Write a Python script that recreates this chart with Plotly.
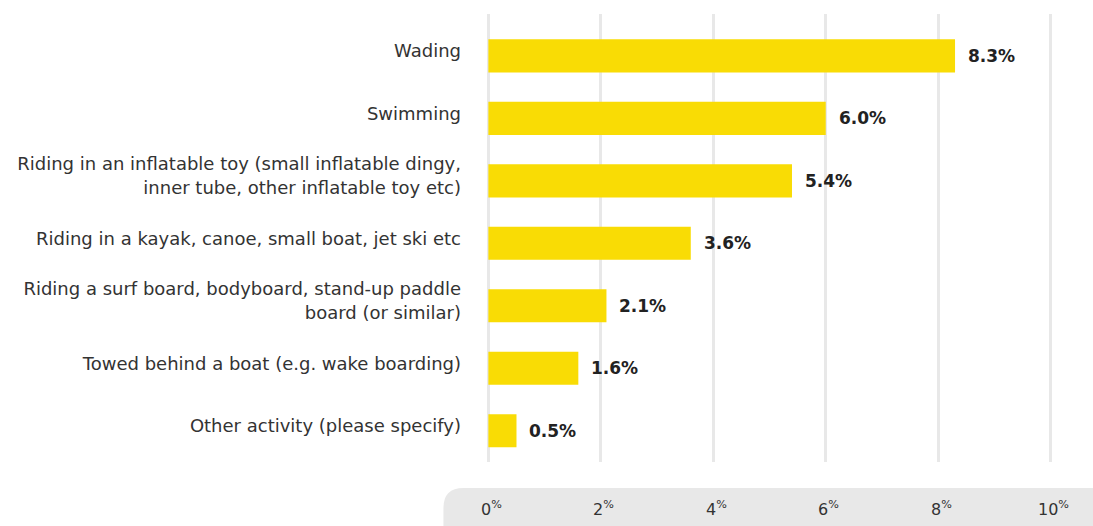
import plotly.graph_objects as go

categories = [
    "Wading",
    "Swimming",
    "Riding in an inflatable toy (small inflatable dingy,<br>inner tube, other inflatable toy etc)",
    "Riding in a kayak, canoe, small boat, jet ski etc",
    "Riding a surf board, bodyboard, stand-up paddle<br>board (or similar)",
    "Towed behind a boat (e.g. wake boarding)",
    "Other activity (please specify)",
]
values = [8.3, 6.0, 5.4, 3.6, 2.1, 1.6, 0.5]
tick_vals = [0, 2, 4, 6, 8, 10]
tick_labels = ["0", "2", "4", "6", "8", "10"]

W, H = 1093, 526
UNIT = (1051 - 488) / 10.0  # px per percentage point
XMIN, XMAX = -0.06, 10.06
L = 488 + XMIN * UNIT
R = 488 + XMAX * UNIT
T, B = 14, 462

def px(x):
    return (x - L) / (R - L)

def py(y):
    return (B - y) / (B - T)

FONT = "DejaVu Sans"

fig = go.Figure()
fig.add_trace(go.Bar(
    x=values, y=list(range(len(categories))), orientation="h",
    marker=dict(color="#F9DC05", line=dict(width=0)),
    width=0.53, hoverinfo="skip",
))

annotations = []
for i, v in enumerate(values):
    annotations.append(dict(
        x=v, y=i, xref="x", yref="y", text=f"<b>{v:.1f}%</b>",
        showarrow=False, xanchor="left", xshift=11,
        font=dict(family=FONT, size=17, color="#222222"),
    ))
for tv, tl in zip(tick_vals, tick_labels):
    annotations.append(dict(
        x=tv, y=py(509), xref="x", yref="paper", text=f"{tl}<sup>%</sup>",
        showarrow=False, xanchor="center", yanchor="middle", xshift=3,
        font=dict(family=FONT, size=16, color="#333333"),
    ))

# pill background behind tick labels
path = (f"M {px(463)},{py(488)} L {px(1110)},{py(488)} L {px(1110)},{py(540)} "
        f"L {px(443)},{py(540)} L {px(443)},{py(508)} "
        f"Q {px(443)},{py(488)} {px(463)},{py(488)} Z")

fig.update_layout(
    width=W, height=H,
    margin=dict(l=L, r=W - R, t=T, b=H - B, pad=0),
    paper_bgcolor="white", plot_bgcolor="white",
    showlegend=False,
    font=dict(family=FONT, size=18, color="#333333"),
    xaxis=dict(range=[XMIN, XMAX], tickvals=tick_vals, showticklabels=False,
               showgrid=True, gridcolor="#e8e8e8", gridwidth=2.5,
               zeroline=False, showline=False, fixedrange=True),
    yaxis=dict(range=[6.5, -0.67], tickvals=list(range(len(categories))),
               ticktext=categories, showgrid=False, zeroline=False,
               ticks="", ticklabelstandoff=23, ticklabelshift=5,
               fixedrange=True,
               tickfont=dict(family=FONT, size=18, color="#333333")),
    annotations=annotations,
    shapes=[dict(type="path", path=path, xref="paper", yref="paper",
                 fillcolor="#e8e8e8", line=dict(width=0), layer="below")],
)

fig.write_html(
    "out.html",
    config={"displayModeBar": False},
    post_script="document.documentElement.style.overflow='hidden';"
                "document.body.style.margin='0';"
                "document.body.style.overflow='hidden';",
)
